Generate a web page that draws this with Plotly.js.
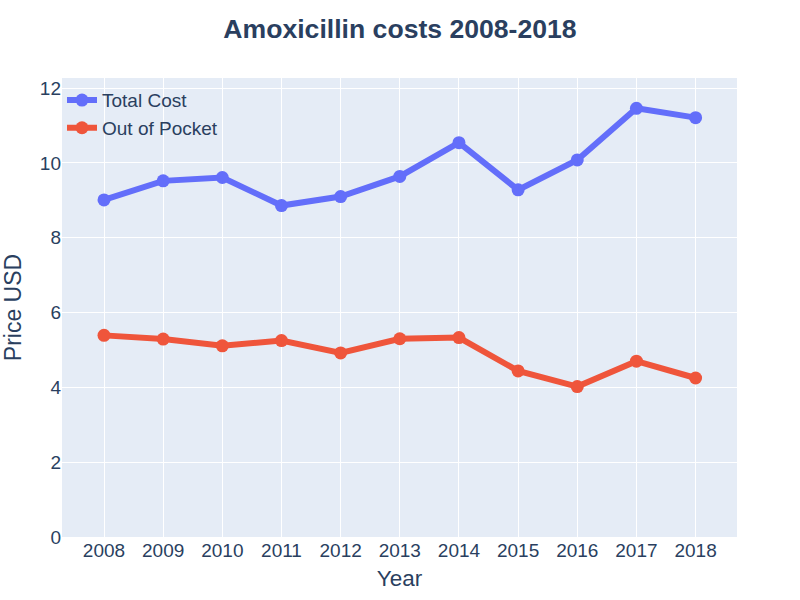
<!DOCTYPE html>
<html>
<head>
<meta charset="utf-8">
<script src="https://cdn.plot.ly/plotly-3.0.1.min.js"></script>
<style>html,body{margin:0;padding:0;}#chart{width:800px;height:600px;}</style>
</head>
<body>
<div id="chart"></div>
<script>
const years = [2008, 2009, 2010, 2011, 2012, 2013, 2014, 2015, 2016, 2017, 2018];
const totalCost = [9.01, 9.52, 9.61, 8.86, 9.10, 9.64, 10.54, 9.28, 10.08, 11.46, 11.21];
const outOfPocket = [5.39, 5.29, 5.11, 5.25, 4.92, 5.30, 5.33, 4.44, 4.02, 4.70, 4.25];
const seriesNames = ["Total Cost", "Out of Pocket"];

const traces = [
  {x: years, y: totalCost, name: seriesNames[0], type: "scatter", mode: "lines+markers",
   line: {color: "#636efa", width: 6}, marker: {color: "#636efa", size: 13}},
  {x: years, y: outOfPocket, name: seriesNames[1], type: "scatter", mode: "lines+markers",
   line: {color: "#EF553B", width: 6}, marker: {color: "#EF553B", size: 13}}
];

const layout = {
  width: 800, height: 600,
  margin: {l: 62, r: 63, t: 78, b: 63},
  paper_bgcolor: "white",
  plot_bgcolor: "#E5ECF6",
  font: {family: "Liberation Sans, Arial, sans-serif", color: "#2a3f5f", size: 19},
  title: {text: "<b>Amoxicillin costs 2008-2018</b>", x: 0.5, xanchor: "center", y: 0.952, yanchor: "middle",
          font: {size: 26.6, color: "#2a3f5f"}},
  xaxis: {title: {text: "Year", font: {size: 22.5}, standoff: 10}, range: [2007.29, 2018.7],
          tickvals: years, gridcolor: "white", gridwidth: 1, zeroline: false, tickfont: {size: 19}},
  yaxis: {title: {text: "Price USD", font: {size: 23}, standoff: 14}, range: [0, 12.27], dtick: 2,
          gridcolor: "white", gridwidth: 1, zeroline: false, tickfont: {size: 19}},
  legend: {x: 0.0, y: 0.993, xanchor: "left", yanchor: "top", bgcolor: "rgba(0,0,0,0)", font: {size: 19},
           tracegroupgap: 0},
  showlegend: true
};

Plotly.newPlot("chart", traces, layout, {displayModeBar: false});
</script>
</body>
</html>
